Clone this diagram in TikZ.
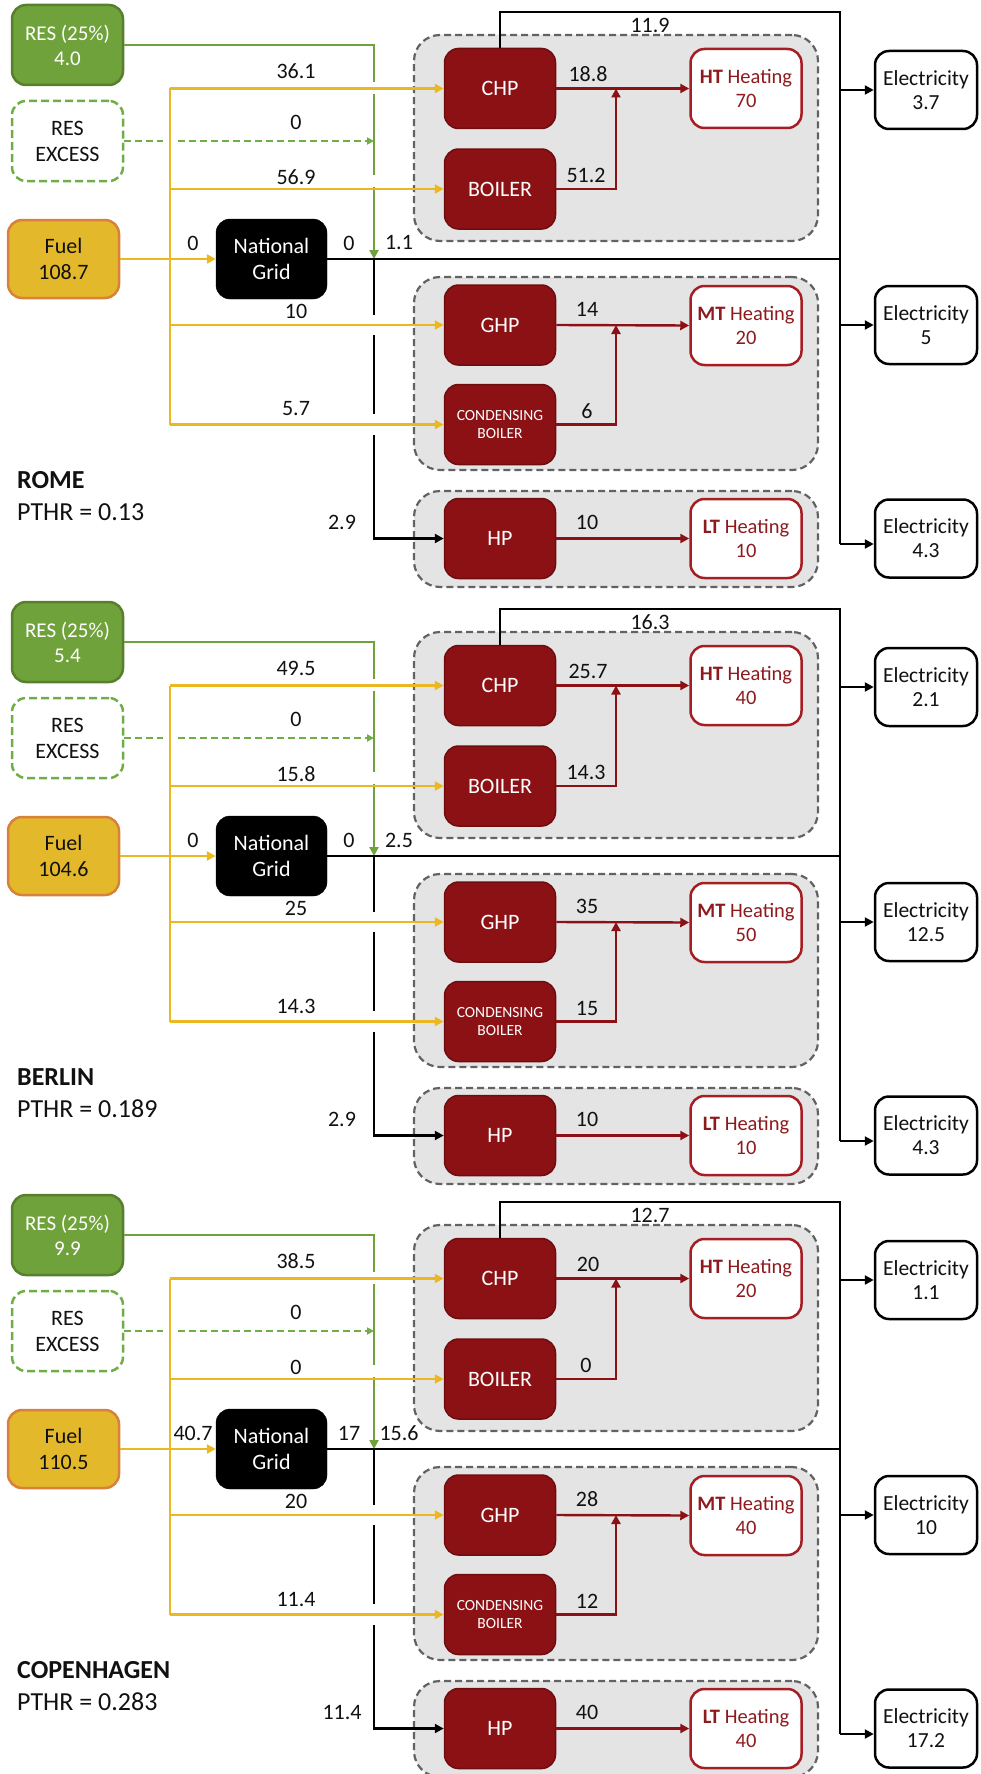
\documentclass[tikz,border=0pt]{standalone}
\usepackage{fontspec}
\setmainfont{Carlito}
\usetikzlibrary{arrows.meta}
\definecolor{resg}{HTML}{70A23B}
\definecolor{resgd}{HTML}{587F2E}
\definecolor{excg}{HTML}{6FAD46}
\definecolor{fuelf}{HTML}{E3B82A}
\definecolor{fueld}{HTML}{D7813A}
\definecolor{yel}{HTML}{EBB821}
\definecolor{dred}{HTML}{8B1115}
\definecolor{dredd}{HTML}{6E0D10}
\definecolor{hred}{HTML}{A51E24}
\definecolor{htext}{HTML}{8E1A1E}
\definecolor{grpf}{HTML}{E4E4E4}
\definecolor{grpd}{HTML}{626262}
\definecolor{txt}{HTML}{111111}
\tikzset{
 every node/.style={inner sep=0pt, align=center, text=txt},
 lbl/.style={font=\fontsize{22}{26}\selectfont},
 resbox/.style={draw=resgd, fill=resg, line width=2.5pt, rounded corners=14pt, minimum width=111pt, minimum height=80pt, text=white, font=\fontsize{21}{25}\selectfont},
 excbox/.style={draw=excg, fill=white, line width=2.5pt, dash pattern=on 8pt off 4pt, rounded corners=14pt, minimum width=111pt, minimum height=80pt, font=\fontsize{22}{26}\selectfont},
 fuelbox/.style={draw=fueld, fill=fuelf, line width=2.5pt, rounded corners=14pt, minimum width=111pt, minimum height=78pt, font=\fontsize{22}{26}\selectfont},
 ngbox/.style={fill=black, draw=black, rounded corners=14pt, minimum width=111pt, minimum height=80pt, text=white, font=\fontsize{22}{26}\selectfont},
 unit/.style={fill=dred, draw=dredd, line width=1.5pt, rounded corners=14pt, minimum width=111pt, minimum height=80pt, text=white, font=\fontsize{22}{26}\selectfont},
 heat/.style={fill=white, draw=hred, line width=2.5pt, rounded corners=14pt, minimum width=111pt, minimum height=79pt, text=htext, font=\fontsize{20.5}{24}\selectfont},
 elec/.style={fill=white, draw=black, line width=2.5pt, rounded corners=14pt, minimum width=102pt, minimum height=78pt, font=\fontsize{21.5}{24}\selectfont},
 grp/.style={fill=grpf, draw=grpd, line width=2.2pt, dash pattern=on 7pt off 4pt, rounded corners=26pt},
 yl/.style={draw=yel, line width=2.4pt},
 gl/.style={draw=resg, line width=2.4pt},
 bl/.style={draw=black, line width=2.4pt},
 rl/.style={draw=dred, line width=2.4pt},
 tip/.style={-{Triangle[length=9pt,width=9pt]}},
 smalltip/.style={-{Triangle[length=7pt,width=7pt]}},
 ttl/.style={anchor=west, font=\fontsize{26}{30}\selectfont}
}
\newcommand\mypanel[2]{%
\begin{scope}[shift={(0,#1)}]
% groups
\node[grp, minimum width=404pt, minimum height=206pt] (gA#2) at (616,138) {};
\node[grp, minimum width=404pt, minimum height=193pt] (gB#2) at (616,373.5) {};
\node[grp, minimum width=404pt, minimum height=96pt] (gC#2) at (616,539) {};
% left boxes
\node[resbox] (res#2) at (67.5,45) {RES (25\%)\\\vRES};
\node[excbox] (exc#2) at (67.5,141) {RES\\EXCESS};
\node[fuelbox] (fuel#2) at (63.5,259) {Fuel\\\vFuel};
\node[ngbox] (ng#2) at (271.5,259) {National\\Grid};
% units
\node[unit] (chp#2) at (500,88.5) {CHP};
\node[unit] (boi#2) at (500,189) {BOILER};
\node[unit] (ghp#2) at (500,325) {GHP};
\node[unit, font=\fontsize{15.5}{18}\selectfont] (cb#2) at (500,424.5) {CONDENSING\\BOILER};
\node[unit] (hp#2) at (500,538.5) {HP};
\node[heat] (ht#2) at (746,88.5) {\textbf{HT} Heating\\\vHT};
\node[heat] (mt#2) at (746,325.5) {\textbf{MT} Heating\\\vMT};
\node[heat] (lt#2) at (746,538.5) {\textbf{LT} Heating\\\vLT};
\node[elec] (ea#2) at (926,90) {Electricity\\\vEa};
\node[elec] (eb#2) at (926,325) {Electricity\\\vEb};
\node[elec] (ec#2) at (926,538.5) {Electricity\\\vEc};
% junction coordinates
\coordinate (gtop#2) at (374,45);
\coordinate (gjn#2) at (374,259);
\coordinate (yt#2) at (170,88.5);
\coordinate (yb#2) at (170,424.5);
\coordinate (ct#2) at (500,12);
\coordinate (kt#2) at (840,12);
\coordinate (kb#2) at (840,544);
\coordinate (hpc#2) at (374,538.5);
% green
\draw[gl] (res#2.east) -- (gtop#2) -- (374,82);
\draw[gl] (374,94) -- (374,175);
\draw[gl,tip] (374,187) -- (gjn#2);
\draw[gl, draw=excg, dash pattern=on 7pt off 4pt] (exc#2.east) -- (163,141);
\draw[gl, draw=excg, dash pattern=on 7pt off 4pt, smalltip] (178,141) -- (374,141);
% black
\draw[bl] (ng#2.east) -- (840,259);
\draw[bl] (chp#2.north) -- (ct#2) -- (kt#2) -- (kb#2);
\draw[bl,tip] (840,90) -- (ea#2.west);
\draw[bl,tip] (840,325) -- (eb#2.west);
\draw[bl,tip] (kb#2) -- ([yshift=-5.5pt]ec#2.west);
\draw[bl] (gjn#2) -- (374,315);
\draw[bl] (374,335) -- (374,414);
\draw[bl,tip] (374,435) -- (hpc#2) -- (hp#2.west);
% yellow
\draw[yl] (yt#2) -- (yb#2);
\draw[yl,tip] (yt#2) -- (chp#2.west);
\draw[yl,tip] (170,189) -- (boi#2.west);
\draw[yl,tip] (170,325) -- (ghp#2.west);
\draw[yl,tip] (yb#2) -- (cb#2.west);
\draw[yl,tip] (fuel#2.east) -- (ng#2.west);
% red
\draw[rl,tip] (chp#2.east) -- (ht#2.west);
\draw[rl,tip] (boi#2.east) -- (616,189) -- (616,88.5);
\draw[rl,tip] (ghp#2.east) -- (mt#2.west);
\draw[rl,tip] (cb#2.east) -- (616,424.5) -- (616,325);
\draw[rl,tip] (hp#2.east) -- (lt#2.west);
% labels
\node[lbl] (la#2) at (296,71) {\vA};
\node[lbl] (lb#2) at (296,122) {\vB};
\node[lbl] (lc#2) at (296,177) {\vC};
\node[lbl] (ld#2) at (296,311) {\vD};
\node[lbl] (le#2) at (296,409) {\vE};
\node[lbl] (lf#2) at (193,243) {\vFng};
\node[lbl] (lg#2) at (349,243) {\vNGo};
\node[lbl] (lh#2) at (399,243) {\vGrid};
\node[lbl] (li#2) at (342,522) {\vHPel};
\node[lbl] (lj#2) at (650,25) {\vCHPel};
\node[lbl] (lk#2) at (588,74) {\vCHPh};
\node[lbl] (ll#2) at (586,175) {\vBoh};
\node[lbl] (lm#2) at (587,309) {\vGHPh};
\node[lbl] (ln#2) at (587,411) {\vCBh};
\node[lbl] (lo#2) at (587,522) {\vHPh};
\node[ttl] (tn#2) at (17,480) {\textbf{\vName}};
\node[ttl] (tp#2) at (17,512) {PTHR = \vPTHR};
\end{scope}}
\begin{document}
\begin{tikzpicture}[x=1pt,y=-1pt]
\useasboundingbox (0,0) rectangle (980,1774);
% ROME
\def\vRES{4.0}\def\vFuel{108.7}\def\vFng{0}\def\vNGo{0}\def\vGrid{1.1}
\def\vA{36.1}\def\vB{0}\def\vC{56.9}\def\vD{10}\def\vE{5.7}\def\vHPel{2.9}
\def\vCHPel{11.9}\def\vCHPh{18.8}\def\vBoh{51.2}\def\vHT{70}\def\vGHPh{14}\def\vCBh{6}
\def\vMT{20}\def\vHPh{10}\def\vLT{10}\def\vEa{3.7}\def\vEb{5}\def\vEc{4.3}
\def\vName{ROME}\def\vPTHR{0.13}
\mypanel{0}{R}
% BERLIN
\def\vRES{5.4}\def\vFuel{104.6}\def\vFng{0}\def\vNGo{0}\def\vGrid{2.5}
\def\vA{49.5}\def\vB{0}\def\vC{15.8}\def\vD{25}\def\vE{14.3}\def\vHPel{2.9}
\def\vCHPel{16.3}\def\vCHPh{25.7}\def\vBoh{14.3}\def\vHT{40}\def\vGHPh{35}\def\vCBh{15}
\def\vMT{50}\def\vHPh{10}\def\vLT{10}\def\vEa{2.1}\def\vEb{12.5}\def\vEc{4.3}
\def\vName{BERLIN}\def\vPTHR{0.189}
\mypanel{597}{B}
% COPENHAGEN
\def\vRES{9.9}\def\vFuel{110.5}\def\vFng{40.7}\def\vNGo{17}\def\vGrid{15.6}
\def\vA{38.5}\def\vB{0}\def\vC{0}\def\vD{20}\def\vE{11.4}\def\vHPel{11.4}
\def\vCHPel{12.7}\def\vCHPh{20}\def\vBoh{0}\def\vHT{20}\def\vGHPh{28}\def\vCBh{12}
\def\vMT{40}\def\vHPh{40}\def\vLT{40}\def\vEa{1.1}\def\vEb{10}\def\vEc{17.2}
\def\vName{COPENHAGEN}\def\vPTHR{0.283}
\mypanel{1190}{C}
\end{tikzpicture}
\end{document}
